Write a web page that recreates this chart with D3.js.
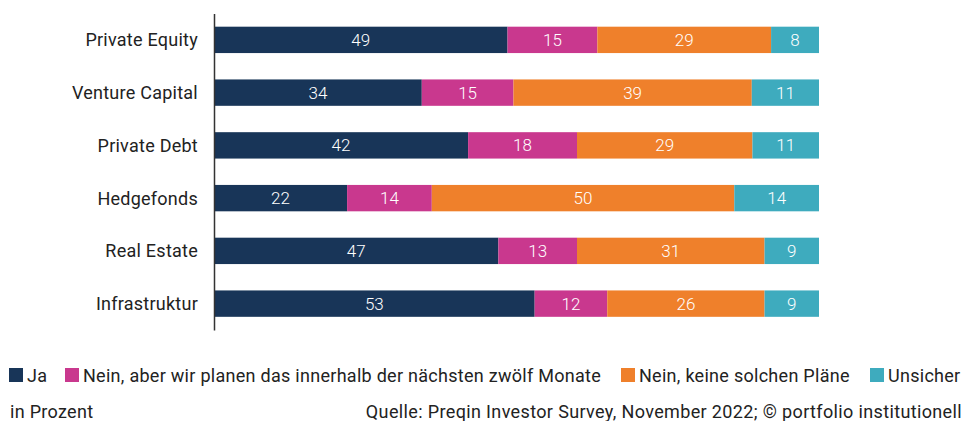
<!DOCTYPE html>
<html>
<head>
<meta charset="utf-8">
<script src="https://cdn.jsdelivr.net/npm/d3@7"></script>
<style>
  body { margin: 0; background: #fff; }
  svg { font-family: Roboto, "Noto Sans", sans-serif; }
</style>
</head>
<body>
<div id="chart"></div>
<script>
var w = 963;
var h = 421;

// Data (in Prozent)
var categories = ["Private Equity", "Venture Capital", "Private Debt", "Hedgefonds", "Real Estate", "Infrastruktur"];
var seriesNames = ["Ja", "Nein, aber wir planen das innerhalb der nächsten zwölf Monate", "Nein, keine solchen Pläne", "Unsicher"];
var ja = [49, 34, 42, 22, 47, 53];
var neinPlan = [15, 15, 18, 14, 13, 12];
var neinKeine = [29, 39, 29, 50, 31, 26];
var unsicher = [8, 11, 11, 14, 9, 9];
var colors = ["#183558", "#c9388e", "#ef802b", "#3eabbe"];

var seriesValues = [ja, neinPlan, neinKeine, unsicher];

// Build rows for d3.stack
var rows = categories.map(function(c, i) {
    var r = { category: c };
    seriesNames.forEach(function(s, j) { r[s] = seriesValues[j][i]; });
    return r;
});

var svg = d3.select("#chart")
    .append("svg")
    .attr("width", w)
    .attr("height", h);

// Stack, normalised to 100 % (bars all end at the same point)
var stack = d3.stack()
    .keys(seriesNames)
    .offset(d3.stackOffsetExpand);
var stacked = stack(rows);

var xScale = d3.scaleLinear()
    .domain([0, 1])
    .range([214, 819]);

var yScale = d3.scaleBand()
    .domain(categories)
    .range([13.5, 330])
    .paddingInner(0.5)
    .paddingOuter(0.25);

// Bars
var layers = svg.selectAll("g.layer")
    .data(stacked)
    .enter().append("g")
    .attr("class", "layer")
    .attr("fill", function(d, i) { return colors[i]; });

layers.selectAll("rect")
    .data(function(d) { return d; })
    .enter().append("rect")
    .attr("x", function(d) { return xScale(d[0]); })
    .attr("y", function(d) { return yScale(d.data.category); })
    .attr("width", function(d) { return xScale(d[1]) - xScale(d[0]); })
    .attr("height", yScale.bandwidth());

// Value labels
layers.each(function(layer) {
    d3.select(this).selectAll("text")
        .data(layer)
        .enter().append("text")
        .attr("x", function(d) { return (xScale(d[0]) + xScale(d[1])) / 2; })
        .attr("y", function(d) { return yScale(d.data.category) + yScale.bandwidth() / 2 + 6; })
        .attr("text-anchor", "middle")
        .attr("fill", "#fff")
        .style("font-size", "17px")
        .style("font-weight", 300)
        .text(function(d) { return d.data[layer.key]; });
});

// Left axis (line + category labels)
var yAxis = svg.append("g")
    .attr("transform", "translate(214,0)")
    .call(d3.axisLeft(yScale).tickSize(0).tickPadding(16));
yAxis.select(".domain").attr("stroke", "#333").attr("stroke-width", 1.5);
yAxis.selectAll("text")
    .attr("fill", "#222")
    .attr("dy", "0.36em")
    .style("font-size", "18px")
    .style("letter-spacing", "0.25px")
    .style("font-family", "Roboto, sans-serif");

// Legend
var legendX = [9, 65, 621, 870];
var legend = svg.append("g")
    .selectAll("g")
    .data(seriesNames)
    .enter().append("g")
    .attr("transform", function(d, i) { return "translate(" + legendX[i] + ",368)"; });
legend.append("rect")
    .attr("width", 14)
    .attr("height", 14)
    .attr("fill", function(d, i) { return colors[i]; });
legend.append("text")
    .attr("x", 18)
    .attr("y", 14)
    .attr("fill", "#222")
    .style("font-size", "18px")
    .style("letter-spacing", "0.28px")
    .text(function(d) { return d; });

// Footer
svg.append("text")
    .attr("x", 10)
    .attr("y", 418)
    .attr("fill", "#222")
    .style("font-size", "18px")
    .style("letter-spacing", "0.3px")
    .text("in Prozent");
svg.append("text")
    .attr("x", 962)
    .attr("y", 418)
    .attr("text-anchor", "end")
    .attr("fill", "#222")
    .style("font-size", "18px")
    .style("letter-spacing", "0.36px")
    .text("Quelle: Preqin Investor Survey, November 2022; © portfolio institutionell");
</script>
</body>
</html>
